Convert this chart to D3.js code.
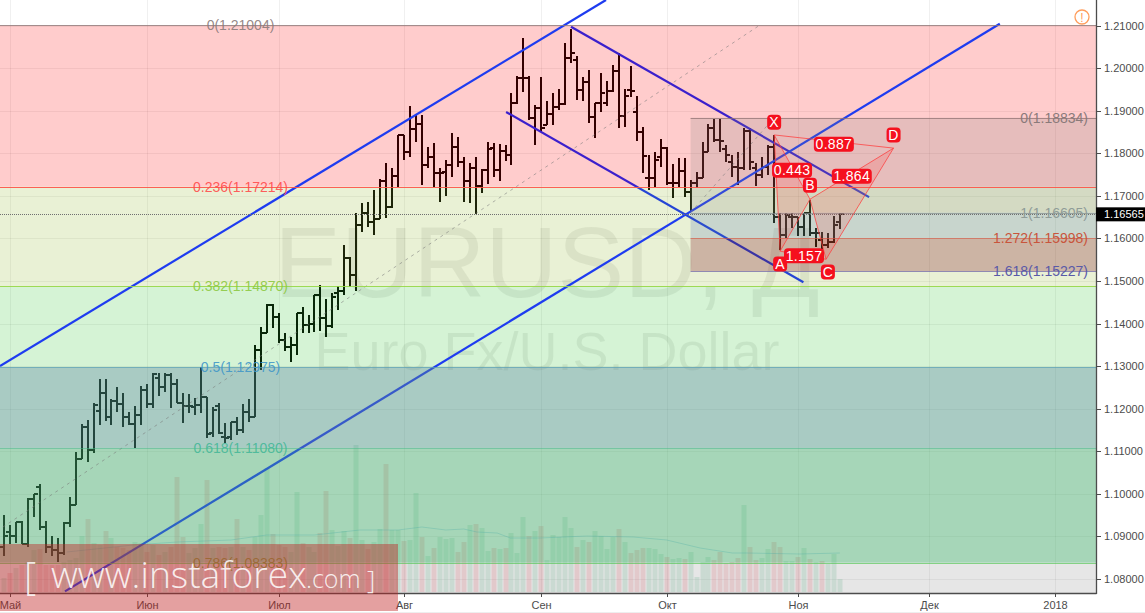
<!DOCTYPE html>
<html><head><meta charset="utf-8">
<script src="https://cdn.jsdelivr.net/npm/d3@7"></script>
<style>html,body{margin:0;padding:0;background:#fff;overflow:hidden}svg{display:block}text{font-family:"Liberation Sans",Arial,sans-serif}</style>
</head><body><div id="c"></div><script>
const firstBar=-1;
const opens=[1.0874,1.0911,1.0902,1.0934,1.0883,1.0988,1.1017,1.0923,1.0876,1.0867,1.0862,1.0932,1.0974,1.1083,1.1157,1.1102,1.1195,1.1237,1.1181,1.1218,1.1212,1.1181,1.1164,1.1186,1.1244,1.1212,1.1272,1.1251,1.1279,1.1258,1.1214,1.1207,1.1205,1.1209,1.1228,1.1143,1.1207,1.1134,1.1134,1.1169,1.1150,1.1193,1.1181,1.1338,1.1378,1.1444,1.1416,1.1362,1.1345,1.1350,1.1425,1.1396,1.1399,1.1467,1.1413,1.1394,1.1472,1.1477,1.1554,1.1514,1.1631,1.1660,1.1638,1.1645,1.1735,1.1674,1.1746,1.1843,1.1803,1.1857,1.1869,1.1772,1.1791,1.1753,1.1756,1.1772,1.1815,1.1779,1.1735,1.1765,1.1723,1.1760,1.1812,1.1760,1.1805,1.1796,1.1918,1.1977,1.1977,1.1883,1.1906,1.1867,1.1892,1.1909,1.1916,1.2024,1.2020,1.1949,1.1967,1.1885,1.1918,1.1918,1.1946,1.1993,1.1887,1.1949,1.1897,1.1850,1.1742,1.1742,1.1791,1.1812,1.1730,1.1730,1.1758,1.1709,1.1730,1.1742,1.1803,1.1860,1.1831,1.1810,1.1779,1.1768,1.1765,1.1852,1.1765,1.1749,1.1768,1.1815,1.1650,1.1608,1.1650,1.1650,1.1627,1.1660,1.1613,1.1596,1.1584,1.1591,1.1638];
const highs=[1.0951,1.0927,1.0934,1.0937,1.0991,1.1000,1.1024,1.0937,1.0902,1.0897,1.0934,1.0993,1.1099,1.1164,1.1174,1.1214,1.1269,1.1269,1.1223,1.1251,1.1237,1.1193,1.1207,1.1254,1.1258,1.1284,1.1284,1.1284,1.1284,1.1269,1.1237,1.1235,1.1225,1.1298,1.1228,1.1205,1.1214,1.1167,1.1169,1.1181,1.1212,1.1223,1.1350,1.1392,1.1446,1.1446,1.1425,1.1378,1.1369,1.1425,1.1439,1.1420,1.1467,1.1491,1.1458,1.1472,1.1488,1.1585,1.1556,1.1660,1.1683,1.1685,1.1713,1.1739,1.1777,1.1765,1.1843,1.1843,1.1911,1.1890,1.1890,1.1815,1.1824,1.1765,1.1784,1.1848,1.1838,1.1791,1.1777,1.1791,1.1763,1.1826,1.1824,1.1822,1.1819,1.1941,1.1981,1.2071,1.1981,1.1913,1.1979,1.1923,1.1941,1.1951,1.2059,1.2092,1.2029,1.1979,1.1996,1.1918,1.1988,1.1970,1.2007,1.2036,1.1951,1.2005,1.1934,1.1862,1.1796,1.1803,1.1833,1.1815,1.1775,1.1789,1.1789,1.1737,1.1756,1.1826,1.1869,1.1880,1.1880,1.1819,1.1796,1.1803,1.1860,1.1860,1.1777,1.1791,1.1819,1.1843,1.1660,1.1660,1.1660,1.1650,1.1660,1.1690,1.1624,1.1615,1.1613,1.1652,1.1660];
const lows=[1.0855,1.0883,1.0885,1.0883,1.0876,1.0946,1.0916,1.0862,1.0853,1.0839,1.0857,1.0923,1.0974,1.1083,1.1074,1.1097,1.1162,1.1171,1.1162,1.1193,1.1157,1.1162,1.1108,1.1162,1.1202,1.1202,1.1230,1.1239,1.1202,1.1214,1.1167,1.1190,1.1186,1.1190,1.1132,1.1134,1.1141,1.1120,1.1127,1.1139,1.1143,1.1169,1.1181,1.1291,1.1378,1.1390,1.1355,1.1336,1.1310,1.1327,1.1378,1.1378,1.1380,1.1383,1.1369,1.1390,1.1432,1.1467,1.1486,1.1477,1.1615,1.1626,1.1608,1.1645,1.1648,1.1671,1.1721,1.1784,1.1791,1.1826,1.1725,1.1765,1.1721,1.1685,1.1699,1.1744,1.1768,1.1685,1.1683,1.1657,1.1706,1.1728,1.1744,1.1735,1.1782,1.1772,1.1916,1.1944,1.1878,1.1819,1.1850,1.1867,1.1867,1.1901,1.1913,1.2012,1.1925,1.1923,1.1871,1.1836,1.1897,1.1911,1.1944,1.1860,1.1862,1.1932,1.1829,1.1753,1.1713,1.1721,1.1768,1.1725,1.1695,1.1721,1.1697,1.1662,1.1718,1.1742,1.1803,1.1826,1.1803,1.1779,1.1744,1.1725,1.1760,1.1760,1.1723,1.1742,1.1749,1.1636,1.1573,1.1601,1.1624,1.1605,1.1605,1.1605,1.1580,1.1575,1.1578,1.1589,1.1622];
const closes=[1.0900,1.0902,1.0934,1.0883,1.0988,1.1000,1.0923,1.0876,1.0867,1.0862,1.0932,1.0974,1.1083,1.1157,1.1102,1.1209,1.1237,1.1181,1.1218,1.1212,1.1181,1.1164,1.1186,1.1244,1.1212,1.1282,1.1251,1.1279,1.1258,1.1214,1.1207,1.1207,1.1209,1.1228,1.1141,1.1198,1.1143,1.1132,1.1169,1.1150,1.1193,1.1181,1.1338,1.1378,1.1444,1.1416,1.1362,1.1345,1.1350,1.1425,1.1396,1.1399,1.1467,1.1413,1.1394,1.1463,1.1477,1.1554,1.1514,1.1631,1.1660,1.1638,1.1645,1.1735,1.1674,1.1746,1.1843,1.1803,1.1857,1.1869,1.1772,1.1791,1.1753,1.1753,1.1772,1.1815,1.1779,1.1735,1.1765,1.1723,1.1760,1.1810,1.1760,1.1805,1.1796,1.1918,1.1977,1.1977,1.1883,1.1906,1.1860,1.1892,1.1909,1.1916,1.2024,1.2036,1.1949,1.1967,1.1885,1.1918,1.1941,1.1946,1.1993,1.1887,1.1934,1.1946,1.1850,1.1794,1.1742,1.1784,1.1812,1.1730,1.1730,1.1758,1.1709,1.1730,1.1742,1.1803,1.1860,1.1831,1.1829,1.1796,1.1768,1.1765,1.1852,1.1779,1.1749,1.1768,1.1815,1.1650,1.1608,1.1655,1.1650,1.1627,1.1660,1.1613,1.1613,1.1584,1.1591,1.1631,1.1657];
const volumes=[14,19,24,27,30,42,43,27,27,27,30,32,34,56,73,49,47,61,54,45,44,42,50,49,40,47,37,40,45,115,55,39,44,68,112,44,45,44,45,73,45,42,55,77,124,58,47,45,40,100,49,45,40,59,101,62,46,61,54,147,52,43,50,63,128,62,62,51,52,99,55,36,44,55,53,54,40,50,67,68,64,41,44,43,44,59,39,75,56,61,66,32,57,55,75,64,45,52,50,61,56,43,55,63,50,39,42,44,44,43,38,35,33,34,33,40,15,30,35,32,40,29,30,34,87,45,32,34,43,50,45,31,31,35,44,33,30,31,28,38,13];
const maIndex=[9.5,20.6,28,37,43,51,58.6,65,69,73,76,78.2,81.6,83.8,88.8,96.6,104.4,110,115.6,121,123.5,132.3,139];
const maValues=[40,47,50,52,57,57,62,62,65,62,63,60,59,54,54,56,55,52,44,39,39,38,39];
const tickBars=[0,23,45,66,89,110,132,154,175];
const tickNames=["Май","Июн","Июл","Авг","Сен","Окт","Ноя","Дек","2018"];
const priceTicks=[1.08,1.09,1.10,1.11,1.12,1.13,1.14,1.15,1.16,1.17,1.18,1.19,1.20,1.21];
const fibLevels=["0","0.236","0.382","0.5","0.618","0.786"];
const fibPrices=[1.21004,1.17214,1.14870,1.12975,1.11080,1.08383];
const extLevels=["0","1","1.272","1.618"];
const extPrices=[1.18834,1.16605,1.15998,1.15227];
const lastPrice=1.16565;
const upperLineBars=[-1.675,99.83], upperLinePrices=[1.1300,1.2160];
const lowerLineBars=[9.21,165.8], lowerLinePrices=[1.0771,1.2104];
const downTopBars=[93.97,143.9], downTopPrices=[1.2097,1.1697];
const downLowBars=[83.1,132.9], downLowPrices=[1.1897,1.1497];
const trendBars=[-1.2,125.5], trendPrices=[1.0922,1.2100];
const extTrendBars=[114,128], extTrendPrices=[1.16605,1.18834];
const patternNames=["X","A","B","C","D"];
const patternBars=[128,129,134,136.7,148];
const patternPrices=[1.1843,1.1570,1.1692,1.1551,1.1812];
const letterBars=[128,129,134,137,148];
const letterPrices=[1.1873,1.1540,1.1725,1.1521,1.1843];
const ratioNames=["0.443","1.864","0.887","1.157"];
const ratioBars=[131,141,138,133];
const ratioPrices=[1.1760,1.1746,1.1821,1.1559];

const W=1145,H=613,plotR=1096,axisY=593;
const x=d3.scaleLinear().domain([0,175]).range([10,1054.75]);
const y=d3.scaleLinear().domain([1.08,1.21]).range([579,25.5]);
const vy=d3.scaleLinear().domain([0,200]).range([592,392]);
const svg=d3.select("#c").append("svg").attr("width",W).attr("height",H);
const defs=svg.append("defs");
defs.append("clipPath").attr("id","plot").append("rect").attr("x",0).attr("y",0).attr("width",plotR).attr("height",axisY);
const plot=svg.append("g").attr("clip-path","url(#plot)");
const ci=i=>Math.round(x(i));
const seg=(g,bars,prices,col,w)=>g.append("line").attr("x1",x(bars[0])).attr("y1",y(prices[0])).attr("x2",x(bars[1])).attr("y2",y(prices[1])).attr("stroke",col).attr("stroke-width",w);
const band=(g,p0,p1,col)=>g.append("rect").attr("x",0).attr("width",plotR).attr("y",y(p0)).attr("height",y(p1)-y(p0)).attr("fill",col);

// grid
const grid=plot.append("g").attr("stroke","rgba(0,0,0,0.06)");
grid.selectAll("line.h").data(priceTicks).join("line").attr("class","h").attr("x1",0).attr("x2",plotR).attr("y1",d=>Math.round(y(d))+.5).attr("y2",d=>Math.round(y(d))+.5);
grid.selectAll("line.v").data(tickBars).join("line").attr("class","v").attr("x1",d=>ci(d)+.5).attr("x2",d=>ci(d)+.5).attr("y1",0).attr("y2",axisY);

// watermark
plot.append("text").attr("x",547).attr("y",297).attr("text-anchor","middle").attr("font-size",100).attr("fill","rgba(0,0,0,0.07)").text("EURUSD, Д");
plot.append("text").attr("x",547).attr("y",370).attr("text-anchor","middle").attr("font-size",54).attr("fill","rgba(0,0,0,0.07)").text("Euro Fx/U.S. Dollar");

// volume
const idx=d3.range(opens.length);
plot.append("g").selectAll("rect").data(idx).join("rect")
 .attr("x",d=>ci(d+firstBar)-2.5).attr("width",5)
 .attr("y",d=>vy(volumes[d])).attr("height",d=>vy(0)-vy(volumes[d]))
 .attr("fill",d=>closes[d]>=opens[d]?"rgba(83,185,135,0.2)":"rgba(235,77,92,0.2)");
const maPts=d3.zip(maIndex,maValues);
plot.append("path").attr("d",d3.line().x(d=>x(d[0])).y(d=>vy(d[1]))(maPts)).attr("fill","none").attr("stroke","rgba(70,170,220,0.3)");

// bars
const barG=plot.append("g").attr("stroke","#000").attr("stroke-width",2).attr("fill","none");
barG.selectAll("path").data(idx).join("path").attr("d",d=>{
  const c=ci(d+firstBar);
  const o=Math.round(y(opens[d])),cl=Math.round(y(closes[d])),h=Math.round(y(highs[d])),l=Math.round(y(lows[d]));
  return `M${c},${h}V${l}M${c-4},${o}H${c}M${c},${cl}H${c+4}`;
});

// down channel (under light bands)
seg(plot,downTopBars,downTopPrices,"#0a28ff",2.2);
seg(plot,downLowBars,downLowPrices,"#0a28ff",2.2);

// light fib bands
band(plot,fibPrices[0],fibPrices[1],"rgba(255,0,0,0.2)");
band(plot,fibPrices[1],fibPrices[2],"rgba(145,185,45,0.2)");
band(plot,fibPrices[2],fibPrices[3],"rgba(45,195,45,0.2)");
band(plot,fibPrices[3],fibPrices[4],"rgba(0,150,136,0.2)");
band(plot,fibPrices[4],fibPrices[5],"rgba(76,175,80,0.2)");
band(plot,fibPrices[5],1.0767,"rgba(128,128,128,0.2)");

// channel up
seg(plot,upperLineBars,upperLinePrices,"#1e3cf0",2.2);
seg(plot,lowerLineBars,lowerLinePrices,"#1e3cf0",2.2);

// dark layer
band(plot,fibPrices[3],fibPrices[4],"rgba(104,146,129,0.35)");
band(plot,fibPrices[4],fibPrices[5],"rgba(68,168,117,0.35)");

// extension rects
const extCols=["rgba(130,130,125,0.2)","rgba(68,105,175,0.2)","rgba(120,0,20,0.25)"];
const rx=x(extTrendBars[0]);
extCols.forEach((c,i)=>plot.append("rect").attr("x",rx).attr("width",plotR-rx).attr("y",y(extPrices[i])).attr("height",y(extPrices[i+1])-y(extPrices[i])).attr("fill",c));

// trend dashed
seg(plot,trendBars,trendPrices,"rgba(120,120,120,0.55)",1).attr("stroke-dasharray","3 4");
seg(plot,extTrendBars,extTrendPrices,"rgba(120,120,120,0.55)",1).attr("stroke-dasharray","3 4");

// levels
const fibCols=["rgba(140,120,120,.8)","rgba(255,80,70,.9)","rgba(150,215,70,.9)","rgba(90,160,180,.7)","rgba(70,180,140,.5)","rgba(90,200,90,.7)"];
plot.append("g").selectAll("line").data(fibPrices).join("line").attr("x1",0).attr("x2",plotR)
 .attr("y1",d=>Math.round(y(d))+.5).attr("y2",d=>Math.round(y(d))+.5).attr("stroke",(d,i)=>fibCols[i]);
const extLineCols=["rgba(140,110,110,.7)","rgba(130,140,140,.7)","rgba(215,90,70,.65)","rgba(110,100,170,.7)"];
plot.append("g").selectAll("line").data(extPrices).join("line").attr("x1",rx).attr("x2",plotR)
 .attr("y1",d=>Math.round(y(d))+.5).attr("y2",d=>Math.round(y(d))+.5).attr("stroke",(d,i)=>extLineCols[i]);
plot.append("line").attr("x1",0).attr("x2",plotR).attr("y1",Math.round(y(lastPrice))+.5).attr("y2",Math.round(y(lastPrice))+.5)
 .attr("stroke","#707070").attr("stroke-dasharray","1 1");

// pattern
const pP=patternBars.map((b,i)=>[x(b),y(patternPrices[i])]);
const tri=(a,b,c)=>plot.append("path").attr("d",d3.line()([pP[a],pP[b],pP[c],pP[a]])).attr("fill","rgba(255,60,60,0.17)").attr("stroke","none");
tri(0,1,2);tri(2,3,4);
[[0,1],[1,2],[0,2],[2,3],[3,4],[2,4],[0,4],[1,3]].forEach(([a,b])=>plot.append("line").attr("x1",pP[a][0]).attr("y1",pP[a][1]).attr("x2",pP[b][0]).attr("y2",pP[b][1]).attr("stroke","rgba(255,60,60,0.75)").attr("stroke-width",1));

// fib labels
const fibTextCols=["#8a7a7a","#ff4a4a","#8cc840","#3f96c8","#45b898","#7f9a3a"];
svg.append("g").selectAll("text").data(fibPrices).join("text").attr("x",240.5).attr("y",d=>y(d)+5).attr("text-anchor","middle").attr("font-size",14)
 .attr("fill",(d,i)=>fibTextCols[i]).attr("fill-opacity",.9).text((d,i)=>`${fibLevels[i]}(${d.toFixed(5)})`);
const extTextCols=["#8a7a7a","#8f9c98","#c8553c","#5a5aa8"];
svg.append("g").selectAll("text").data(extPrices).join("text").attr("x",1088).attr("y",d=>y(d)+5).attr("text-anchor","end").attr("font-size",14)
 .attr("fill",(d,i)=>extTextCols[i]).text((d,i)=>`${extLevels[i]}(${d.toFixed(5)})`);

// pattern labels
const tag=(bx,pr,t,w)=>{const g=svg.append("g").attr("transform",`translate(${x(bx)},${y(pr)})`);
 g.append("rect").attr("x",-w/2).attr("y",-7.5).attr("width",w).attr("height",15).attr("rx",4).attr("fill","#f5101e");
 g.append("text").attr("y",5).attr("text-anchor","middle").attr("font-size",14).attr("fill","#fff").attr("letter-spacing",.3).text(t);};
patternNames.forEach((n,i)=>tag(letterBars[i],letterPrices[i],n,14));
ratioNames.forEach((n,i)=>tag(ratioBars[i],ratioPrices[i],n,40));

// axes
const yAxis=d3.axisRight(y).tickValues(priceTicks).tickFormat(d3.format(".5f")).tickSize(5).tickPadding(3);
const yg=svg.append("g").attr("transform",`translate(${plotR},0)`).call(yAxis);
const xAxis=d3.axisBottom(x).tickValues(tickBars).tickFormat((d,i)=>tickNames[i]).tickSize(4).tickPadding(4);
const xg=svg.append("g").attr("transform",`translate(0,${axisY})`).call(xAxis);
[yg,xg].forEach(g=>{g.select(".domain").remove();g.selectAll("line").attr("stroke","#4c4c4c");g.selectAll("text").attr("fill","#4c4c4c").attr("font-size",11).attr("font-family","Liberation Sans");});
xg.selectAll(".tick").attr("transform",d=>`translate(${ci(d)+.5},0)`);
yg.selectAll(".tick").attr("transform",d=>`translate(0,${Math.round(y(d))+.5})`);
svg.append("line").attr("x1",0).attr("x2",plotR+.5).attr("y1",axisY+.5).attr("y2",axisY+.5).attr("stroke","#4c4c4c").attr("stroke-width",1.3);
svg.append("line").attr("x1",plotR+.5).attr("x2",plotR+.5).attr("y1",0).attr("y2",axisY+1).attr("stroke","#4c4c4c").attr("stroke-width",1.3);
// last price tag
const ly=y(lastPrice);
svg.append("rect").attr("x",plotR).attr("y",ly-7).attr("width",W-plotR).attr("height",14).attr("fill","#000");
svg.append("text").attr("x",plotR+8).attr("y",ly+4).attr("font-size",11).attr("fill","#fff").text(lastPrice.toFixed(5));

// warning icon
const ic=svg.append("g").attr("transform","translate(1082,17)");
ic.append("circle").attr("r",7).attr("fill","#fff").attr("stroke","#ff9d5c").attr("stroke-width",1.3);
ic.append("text").attr("y",4.5).attr("text-anchor","middle").attr("font-size",12).attr("fill","#ff9d5c").text("!");

// banner
svg.append("rect").attr("x",0).attr("y",544).attr("width",398).attr("height",67).attr("fill","rgba(193,35,35,0.43)");
const bt=svg.append("g").attr("fill","rgba(255,255,255,0.85)");
const tx=(t,xp,yp,fs)=>bt.append("text").attr("x",xp).attr("y",yp).attr("font-size",fs).attr("style","font-family:'Open Sans';font-weight:300").text(t);
tx("[",24,590,38);
tx("www.instaforex",51,588,37.2);
tx(".com",306,588,25);
tx("]",367,589,26);
svg.append("rect").attr("x",0).attr("y",612).attr("width",W).attr("height",1).attr("fill","#eee");
</script></body></html>
